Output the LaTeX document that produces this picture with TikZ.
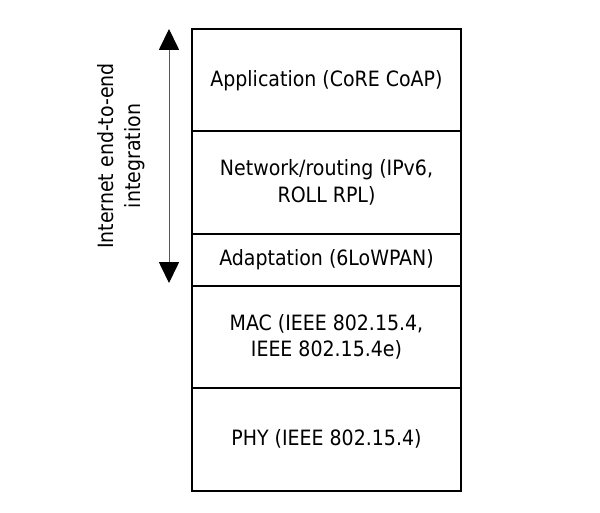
\documentclass[tikz,border=0pt]{standalone}
\usepackage{fontspec}
\setmainfont{DejaVu Sans Condensed}
\usetikzlibrary{arrows.meta}

\tikzset{
    layer/.style={draw, rectangle, line width=1.4pt, align=center, minimum width=6.725cm, inner sep=0cm, font=\fontsize{15}{19}\selectfont},
    span tip/.tip={Triangle[width=0.5cm, length=0.52cm, color=black]}
}

\begin{document}
\begin{tikzpicture}
                \useasboundingbox (0, 0) rectangle (15, 12.825);

                \node[layer, minimum height=2.54cm] (application) at (8.1625, 10.82) {Application (CoRE CoAP)};
                \node[layer, minimum height=2.575cm] (network) at (8.1625, 8.2625) {Network/routing (IPv6,\\ROLL RPL)};
                \node[layer, minimum height=1.295cm] (adaptation) at (8.1625, 6.3275) {Adaptation (6LoWPAN)};
                \node[layer, minimum height=2.555cm] (mac) at (8.1625, 4.4025) {MAC (IEEE 802.15.4,\\IEEE 802.15.4e)};
                \node[layer, minimum height=2.565cm] (phy) at (8.1625, 1.8425) {PHY (IEEE 802.15.4)};

                \coordinate (span top) at (4.225, 12.1);
                \coordinate (span bottom) at (4.225, 5.75);
                \draw[{span tip}-{span tip}, gray!70!black, line width=0.7pt] (span top)--(span bottom);

                \node[rotate=90, align=center, font=\fontsize{15}{19}\selectfont] (span label) at (3.03, 8.925) {Internet end-to-end\\integration};
            \end{tikzpicture}
\end{document}
